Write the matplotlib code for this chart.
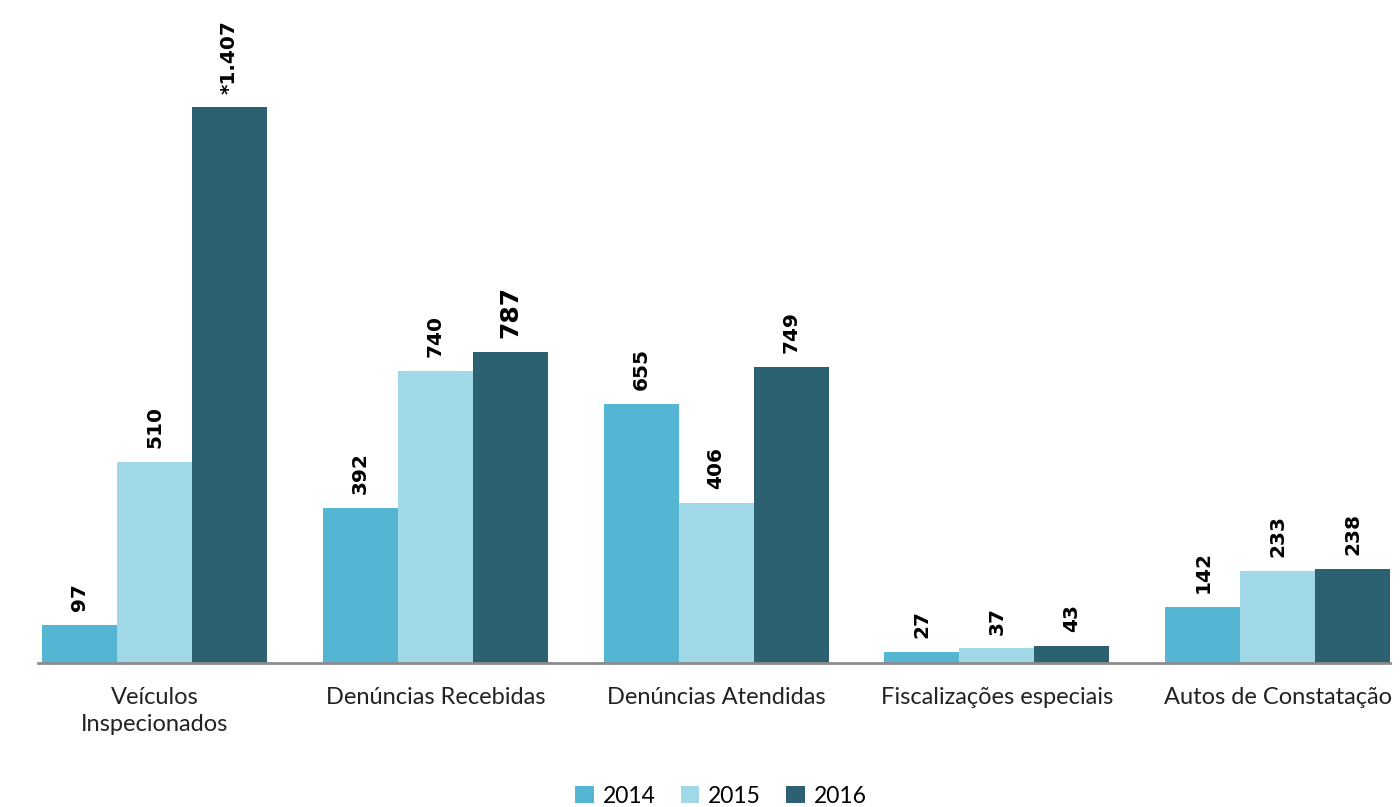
import matplotlib.pyplot as plt
import numpy as np
from matplotlib.patches import Patch

categorias = ['Veículos\nInspecionados', 'Denúncias Recebidas', 'Denúncias Atendidas',
              'Fiscalizações especiais', 'Autos de Constatação']
anos = ['2014', '2015', '2016']
v2014 = [97, 392, 655, 27, 142]
v2015 = [510, 740, 406, 37, 233]
v2016 = [1407, 787, 749, 43, 238]
rotulos2016 = ['*1.407', '787', '749', '43', '238']

cores = ['#55B6D3', '#A1D8E8', '#2B6170']

fig = plt.figure(figsize=(14, 8.07), dpi=100)
ax = fig.add_axes([38 / 1400, 1 - 663 / 807, (1390 - 38) / 1400, 663 / 807])

x = np.arange(len(categorias))
w = 0.267
series = [v2014, v2015, v2016]
for i, (vals, cor) in enumerate(zip(series, cores)):
  pos = x + (i - 1) * w
  ax.bar(pos, vals, width=w, color=cor, edgecolor='none')
  for j, (p, v) in enumerate(zip(pos, vals)):
    txt = rotulos2016[j] if i == 2 else str(v)
    tam = 18 if (i == 2 and j == 1) else 14.5
    ax.annotate(txt, (p, v), xytext=(0, 10), textcoords='offset points',
                rotation=90, ha='center', va='bottom', fontsize=tam,
                fontweight='bold', family='DejaVu Sans', color='black')

ax.set_xlim(-0.415, 4.4)
ax.set_ylim(0, 1679)
ax.set_yticks([])
ax.set_xticks([])
for s in ['top', 'right', 'left']:
  ax.spines[s].set_visible(False)
ax.spines['bottom'].set_color('#8c8c8c')
ax.spines['bottom'].set_linewidth(2)

for xi, cat in zip(x, categorias):
  ax.text(xi, -60, cat, ha='center', va='top', fontsize=17, family='Lato',
          color='#222222', linespacing=1.35)

handles = [Patch(facecolor=c, edgecolor='none') for c in cores]
fig.legend(handles, anos, loc='lower center', ncol=3, frameon=False,
           bbox_to_anchor=(0.515, -0.025), prop={'family': 'Lato', 'size': 16.5},
           handlelength=0.8, handleheight=0.8, handletextpad=0.4, columnspacing=1.1)

fig.savefig('out.png', dpi=100)
